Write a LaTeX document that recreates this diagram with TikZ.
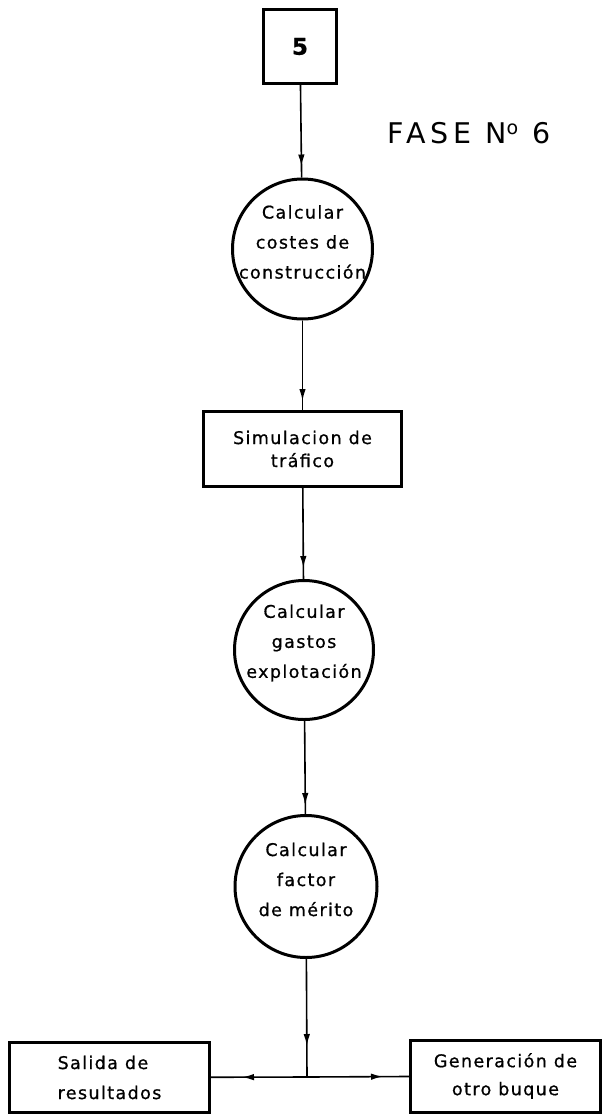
\documentclass[tikz,border=0pt]{standalone}
\usepackage{fontspec}
\usetikzlibrary{arrows.meta,decorations.markings}
% hand-lettered look: wide tracking on a plain sans
\newfontfamily\handfont[LetterSpace=8,FakeBold=0.8]{DejaVu Sans}
\newfontfamily\headfont[LetterSpace=17]{DejaVu Sans}

\begin{document}
\begin{tikzpicture}[x=1pt,y=-1pt,
  box/.style={draw, rectangle, line width=3pt, inner sep=0pt, align=center},
  proc/.style={draw, circle, line width=3pt, inner sep=0pt},
  lbl/.style={align=center, inner sep=0pt, font=\handfont\fontsize{17.5}{30}\selectfont},
  flow/.style={line width=1.6pt, postaction={decorate},
    decoration={markings, mark=at position #1 with {\arrow{Latex[length=12pt,width=6.5pt]}}}},
]
\useasboundingbox (0,0) rectangle (604,1117);

% chain of stages
\node[box, minimum width=73pt, minimum height=74pt,
      font=\handfont\bfseries\fontsize{23}{26}\selectfont] (n5) at (300,46.5) {5};

\node[anchor=base, inner sep=0pt, font=\headfont\fontsize{28.5}{30}\selectfont] (fase) at (469,143)
  {FASE N\raisebox{0.3em}{\fontsize{19}{19}\selectfont o} 6};

\node[proc, minimum size=140pt,
      label={[lbl, yshift=7pt]center:{Calcular\\costes de\\construcción}}] (c1) at (302.5,249) {};

\node[box, minimum width=198pt, minimum height=75pt,
      font=\handfont\fontsize{17.5}{23}\selectfont] (sim) at (302.5,449) {Simulacion de\\tráfico};

\node[proc, minimum size=139pt,
      label={[lbl, yshift=7pt]center:{Calcular\\gastos\\explotación}}] (c2) at (304,650) {};

\node[proc, minimum size=142pt,
      label={[lbl, yshift=7pt]center:{Calcular\\factor\\de mérito}}] (c3) at (306,886.5) {};

\coordinate (j) at (307,1077);

\node[box, minimum width=200pt, minimum height=70pt,
      font=\handfont\fontsize{17.5}{30}\selectfont, align=left] (out) at (109.5,1077.5) {Salida de\\resultados};

\node[box, minimum width=190pt, minimum height=72pt,
      font=\handfont\fontsize{17.5}{28}\selectfont] (gen) at (505.5,1076) {Generación de\\otro buque};

% connectors
\draw[flow=-11pt] (n5) -- (c1);
\draw[flow=-9pt]  (c1) -- (sim);
\draw[flow=-11pt] (sim) -- (c2);
\draw[flow=-9pt]  (c2) -- (c3);
\draw[flow=-31pt] (c3) -- (j);
\draw[flow=-31pt] (j) -- (out);
\draw[flow=-26pt] (j) -- (gen);
\end{tikzpicture}
\end{document}
